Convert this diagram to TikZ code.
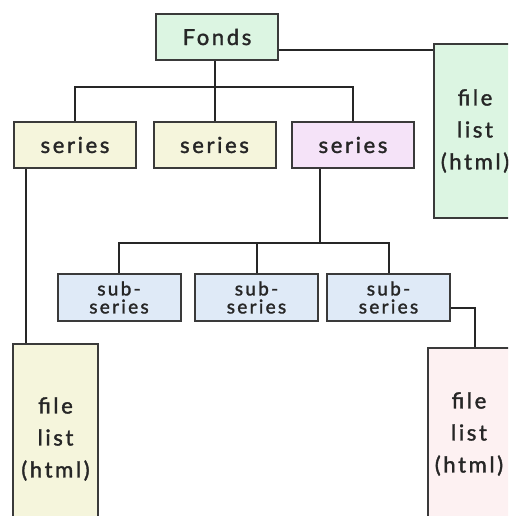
\documentclass[tikz,border=0pt]{standalone}
\usepackage{fontspec}
\setmainfont{Lato}[LetterSpace=12,FakeBold=1.6]
\definecolor{txt}{HTML}{262626}
\definecolor{bord}{HTML}{3A3A3A}
\definecolor{fgreen}{HTML}{DCF5E2}
\definecolor{fyellow}{HTML}{F5F5DC}
\definecolor{fpurple}{HTML}{F5E3F8}
\definecolor{fblue}{HTML}{DFEAF7}
\definecolor{fpink}{HTML}{FDF1F2}
\begin{document}
\begin{tikzpicture}[x=1pt,y=-1pt,
  box/.style={draw=bord,line width=2pt,inner sep=0pt,text=txt,align=center},
  lvl/.style={box,minimum width=122pt,minimum height=46pt,font=\fontsize{22}{24}\selectfont},
  sub/.style={box,fill=fblue,minimum width=123pt,minimum height=47pt,font=\fontsize{19}{18}\selectfont},
  flist/.style={box,minimum width=84pt,font=\fontsize{22}{32}\selectfont},
  conn/.style={draw=black!85,line width=2pt}]
\useasboundingbox (0,0) rectangle (508,516);
\clip (0,0) rectangle (508,516);
\node[lvl,fill=fgreen] (fonds) at (217,37) {Fonds};
\node[flist,fill=fgreen,minimum width=82pt,minimum height=174pt] (flg) at (475,131) {file\\list\\(html)};
\node[lvl,fill=fyellow] (s1) at (75,145) {series};
\node[lvl,fill=fyellow] (s2) at (214.5,145) {series};
\node[lvl,fill=fpurple] (s3) at (353,145) {series};
\node[sub] (b1) at (119,297.5) {sub-\\series};
\node[sub] (b2) at (256.5,297.5) {sub-\\series};
\node[sub] (b3) at (388.5,297.5) {sub-\\series};
\node[flist,fill=fyellow,minimum width=85pt,minimum height=190pt] (fly) at (55.5,439) {file\\list\\(html)};
\node[flist,fill=fpink,minimum width=82pt,minimum height=172pt] (fpk) at (469,434) {file\\list\\(html)};
% connectors
\coordinate (fr) at ([yshift=-13pt]fonds.east);
\draw[conn] (fr) -- (fr -| flg.west);
\draw[conn] (s2.north) -- (s2.north |- fonds.south);
\draw[conn] (s1.north) -- ++(0,-34) -| (s3.north);
\coordinate (a) at ([xshift=-49pt]s1.south);
\draw[conn] (a) -- (a |- fly.north);
\coordinate (bar2) at ([yshift=30pt]b2.north);
\coordinate (c) at ([xshift=-33pt]s3.south);
\draw[conn] (c) -- (c |- bar2);
\draw[conn] (b1.north) -- ++(0,-30) -| (b3.north);
\draw[conn] (b2.north) -- (bar2);
\coordinate (d) at ([yshift=-10.5pt]b3.east);
\coordinate (e) at ([xshift=6pt]fpk.north);
\draw[conn] (d) -| (e);
\end{tikzpicture}
\end{document}
